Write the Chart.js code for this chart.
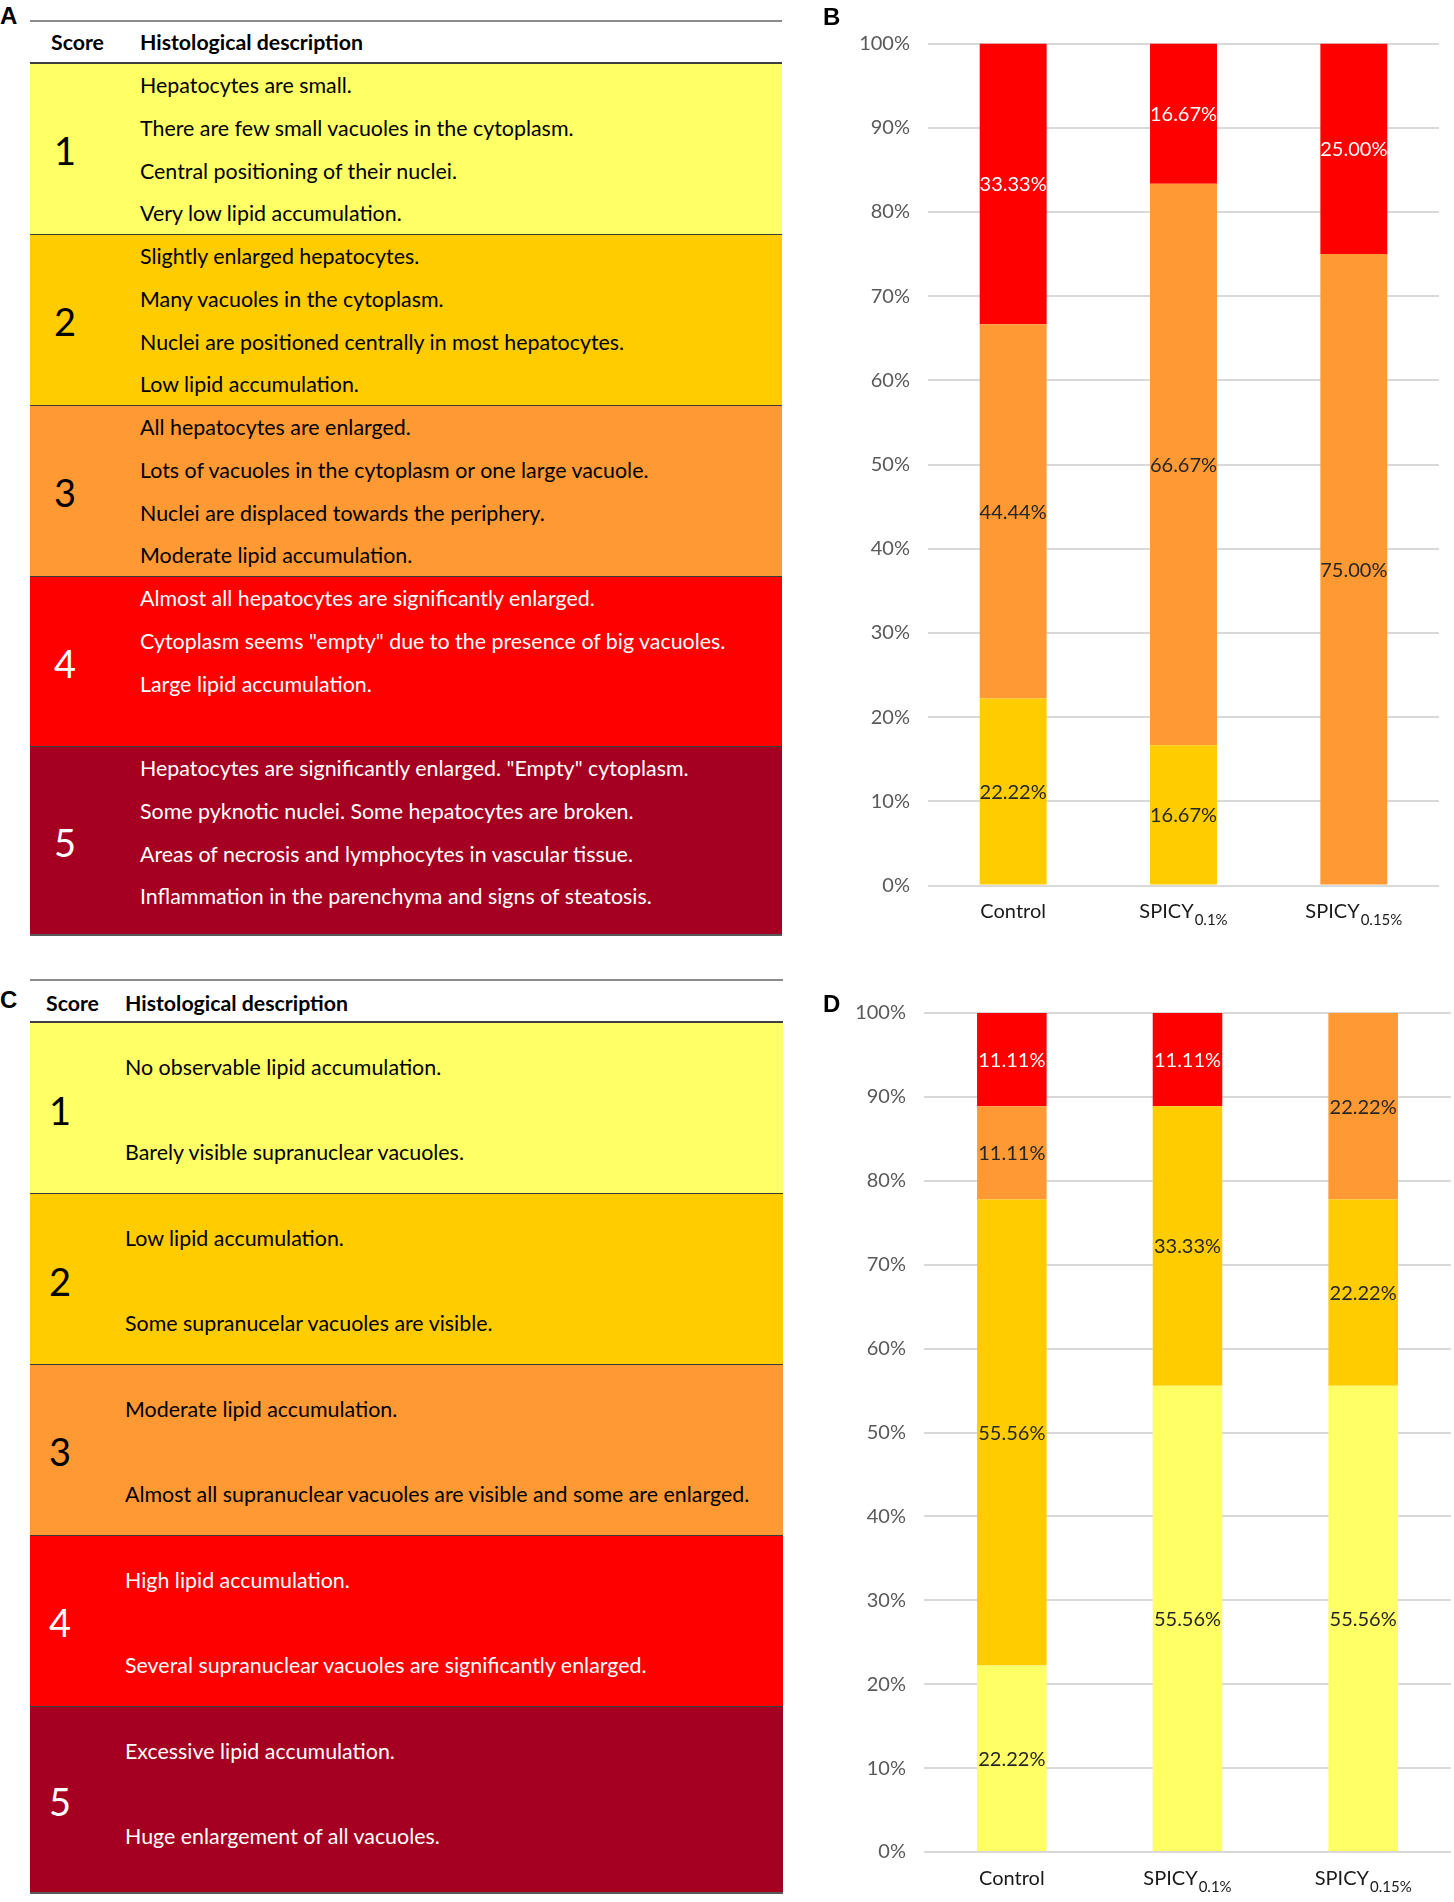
<!DOCTYPE html>
<html><head><meta charset="utf-8">
<script src="https://cdn.jsdelivr.net/npm/chart.js@4.4.1/dist/chart.umd.min.js"></script>
<style>
html,body{margin:0;padding:0;background:#fff;}
body{width:1454px;height:1902px;position:relative;overflow:hidden;font-family:Lato,"Open Sans",sans-serif;}
.t{position:absolute;line-height:1;white-space:nowrap;}
.box{position:absolute;}
canvas{position:absolute;}
</style></head><body>
<canvas id="chartB" width="624" height="945" style="left:830px;top:0px;width:624px;height:945px"></canvas>
<canvas id="chartD" width="624" height="942" style="left:830px;top:960px;width:624px;height:942px"></canvas>
<script>
// ---------- DATA ----------
const categories = ['Control', 'SPICY', 'SPICY'];
const categorySubscripts = ['', '0.1%', '0.15%'];
const yTickValues = [0, 10, 20, 30, 40, 50, 60, 70, 80, 90, 100];

// Panel B (hepatic scores)
const B_score2 = [22.22, 16.67, 0];
const B_score3 = [44.44, 66.67, 75.00];
const B_score4 = [33.33, 16.67, 25.00];

// Panel D (intestinal scores)
const D_score1 = [22.22, 55.56, 55.56];
const D_score2 = [55.56, 33.33, 22.22];
const D_score3 = [11.11, 0, 22.22];
const D_score4 = [11.11, 11.11, 0];

const scoreNames = ['1', '2', '3', '4', '5'];
const tableA_desc = [
  ['Hepatocytes are small.', 'There are few small vacuoles in the cytoplasm.', 'Central positioning of their nuclei.', 'Very low lipid accumulation.'],
  ['Slightly enlarged hepatocytes.', 'Many vacuoles in the cytoplasm.', 'Nuclei are positioned centrally in most hepatocytes.', 'Low lipid accumulation.'],
  ['All hepatocytes are enlarged.', 'Lots of vacuoles in the cytoplasm or one large vacuole.', 'Nuclei are displaced towards the periphery.', 'Moderate lipid accumulation.'],
  ['Almost all hepatocytes are significantly enlarged.', 'Cytoplasm seems "empty" due to the presence of big vacuoles.', 'Large lipid accumulation.'],
  ['Hepatocytes are significantly enlarged. "Empty" cytoplasm.', 'Some pyknotic nuclei. Some hepatocytes are broken.', 'Areas of necrosis and lymphocytes in vascular tissue.', 'Inflammation in the parenchyma and signs of steatosis.']
];
const tableC_desc = [
  ['No observable lipid accumulation.', 'Barely visible supranuclear vacuoles.'],
  ['Low lipid accumulation.', 'Some supranucelar vacuoles are visible.'],
  ['Moderate lipid accumulation.', 'Almost all supranuclear vacuoles are visible and some are enlarged.'],
  ['High lipid accumulation.', 'Several supranuclear vacuoles are significantly enlarged.'],
  ['Excessive lipid accumulation.', 'Huge enlargement of all vacuoles.']
];
const headerScore = 'Score';
const headerDesc = 'Histological description';

// ---------- STYLE ----------
const scoreColors = ['#FFFF66', '#FFCC00', '#FF9933', '#FF0000', '#A50021'];
const scoreText = ['#000000', '#000000', '#000000', '#FFFFFF', '#FFFFFF'];
const FONT = 'Lato';
const TXT = 21.4;

function addText(str, x, yc, size, opts) {
  opts = opts || {};
  const d = document.createElement('div');
  d.className = 't';
  d.textContent = str;
  d.style.fontSize = size + 'px';
  d.style.fontFamily = opts.family || FONT;
  if (opts.bold) d.style.fontWeight = 'bold';
  d.style.color = opts.color || '#000';
  const k = opts.k != null ? opts.k : 0.57;
  d.style.top = (yc - k * size) + 'px';
  if (opts.center) { d.style.left = x + 'px'; d.style.transform = 'translateX(-50%)'; }
  else d.style.left = x + 'px';
  document.body.appendChild(d);
  return d;
}
function addBox(x, y, w, h, color) {
  const d = document.createElement('div');
  d.className = 'box';
  d.style.left = x + 'px'; d.style.top = y + 'px';
  d.style.width = w + 'px'; d.style.height = h + 'px';
  d.style.background = color;
  document.body.appendChild(d);
}

function buildTable(cfg) {
  const L = cfg.left, W = cfg.width;
  for (let r = 0; r < 5; r++) {
    const top = cfg.rows[r], bot = cfg.rows[r + 1];
    addBox(L, top, W, bot - top, scoreColors[r]);
    addText(scoreNames[r], cfg.numX, (top + bot) / 2 + cfg.numDy, 38, {color: scoreText[r], center: true, k: 0.53});
    cfg.desc[r].forEach((line, i) => {
      addText(line, cfg.textX, top + cfg.lineOffsets[i] + 2.5, TXT, {color: scoreText[r]});
    });
    if (r > 0) addBox(L, top - 0.5, W, 1.2, '#3a3a3a');
  }
  addBox(L, cfg.topLine - 1, W, 2, '#8c8c8c');
  addBox(L, cfg.rows[0] - 1, W, 2, '#404040');
  addBox(L, cfg.rows[5] - 1, W, 2, '#595959');
  addText(headerScore, cfg.scoreX, cfg.headerY + 2, 21.3, {bold: true});
  addText(headerDesc, cfg.textX, cfg.headerY + 2, 21.3, {bold: true});
}

buildTable({
  left: 30, width: 752, topLine: 20.6, headerY: 42, scoreX: 51, textX: 140, numX: 65, numDy: 3,
  rows: [63, 234, 405, 576, 746, 935],
  lineOffsets: [22, 64.6, 107.2, 149.8],
  desc: tableA_desc
});
buildTable({
  left: 30, width: 753, topLine: 980, headerY: 1003, scoreX: 46, textX: 125, numX: 60, numDy: 3,
  rows: [1022, 1193.5, 1364, 1535, 1706, 1893],
  lineOffsets: [44.5, 129.5],
  desc: tableC_desc
});

// panel letters
const LETTER_FONT = '"Liberation Sans", Arial, sans-serif';
addText('A', 0, 15.5, 24, {bold: true, family: LETTER_FONT, k: 0.49});
addText('B', 823, 16.5, 24, {bold: true, family: LETTER_FONT, k: 0.49});
addText('C', 0, 1000, 24, {bold: true, family: LETTER_FONT, k: 0.49});
addText('D', 823, 1003.5, 24, {bold: true, family: LETTER_FONT, k: 0.49});

// ---------- CHARTS ----------
const segLabels = {
  id: 'segLabels',
  afterDatasetsDraw(chart) {
    const ctx = chart.ctx;
    chart.data.datasets.forEach((ds, di) => {
      const meta = chart.getDatasetMeta(di);
      meta.data.forEach((bar, i) => {
        const v = ds.data[i];
        if (!v) return;
        const p = bar.getProps(['x', 'y', 'base'], true);
        ctx.save();
        ctx.font = '20px ' + FONT;
        ctx.fillStyle = ds.labelColor;
        ctx.textAlign = 'center';
        ctx.textBaseline = 'middle';
        ctx.fillText(v.toFixed(2) + '%', p.x, (p.y + p.base) / 2 + 1);
        ctx.restore();
      });
    });
  }
};
const subLabels = {
  id: 'subLabels',
  afterDraw(chart, args, opts) {
    const ctx = chart.ctx;
    const xs = chart.scales.x;
    const yBase = chart.chartArea.bottom + opts.gap;
    ctx.save();
    ctx.fillStyle = '#1a1a1a';
    ctx.textBaseline = 'alphabetic';
    categories.forEach((c, i) => {
      const cx = xs.getPixelForValue(i);
      ctx.font = '20px ' + FONT;
      const w1 = ctx.measureText(c).width;
      ctx.font = '15px ' + FONT;
      const w2 = categorySubscripts[i] ? ctx.measureText(categorySubscripts[i]).width + 1 : 0;
      const x0 = cx - (w1 + w2) / 2;
      ctx.font = '20px ' + FONT;
      ctx.textAlign = 'left';
      ctx.fillText(c, x0, yBase + 7);
      if (w2) {
        ctx.font = '15px ' + FONT;
        ctx.fillText(categorySubscripts[i], x0 + w1 + 1, yBase + 14);
      }
    });
    ctx.restore();
  }
};

function makeChart(id, datasets, g) {
  return new Chart(document.getElementById(id), {
    type: 'bar',
    data: {labels: categories, datasets: datasets},
    options: {
      responsive: false,
      animation: false,
      events: [],
      layout: {padding: {top: g.top, right: g.right, left: 0, bottom: 0}},
      plugins: {legend: {display: false}, tooltip: {enabled: false}, subLabels: {gap: g.gap}},
      datasets: {bar: {barPercentage: g.bar, categoryPercentage: 1}},
      scales: {
        x: {
          stacked: true,
          grid: {display: false},
          border: {display: false},
          ticks: {display: false},
          afterFit: s => { s.height = g.xh; }
        },
        y: {
          stacked: true,
          min: 0, max: 100,
          afterBuildTicks: s => { s.ticks = yTickValues.map(v => ({value: v})); },
          ticks: {
            padding: g.pad,
            color: '#595959',
            font: {family: FONT, size: 20},
            callback: v => v + '%'
          },
          grid: {color: '#d9d9d9', lineWidth: 2, drawTicks: false},
          border: {display: false},
          afterFit: s => { s.width = g.yw; }
        }
      }
    },
    plugins: [segLabels, subLabels]
  });
}

makeChart('chartB', [
  {label: 'Score 2', data: B_score2, backgroundColor: scoreColors[1], labelColor: '#262626'},
  {label: 'Score 3', data: B_score3, backgroundColor: scoreColors[2], labelColor: '#262626'},
  {label: 'Score 4', data: B_score4, backgroundColor: scoreColors[3], labelColor: '#FFFFFF'}
], {top: 43.5, right: 15, yw: 98, xh: 59.5, bar: 0.393, pad: 18, gap: 25});

makeChart('chartD', [
  {label: 'Score 1', data: D_score1, backgroundColor: scoreColors[0], labelColor: '#262626'},
  {label: 'Score 2', data: D_score2, backgroundColor: scoreColors[1], labelColor: '#262626'},
  {label: 'Score 3', data: D_score3, backgroundColor: scoreColors[2], labelColor: '#262626'},
  {label: 'Score 4', data: D_score4, backgroundColor: scoreColors[3], labelColor: '#FFFFFF'}
], {top: 53, right: 3, yw: 94, xh: 50, bar: 0.396, pad: 18, gap: 26});
</script>
</body></html>
